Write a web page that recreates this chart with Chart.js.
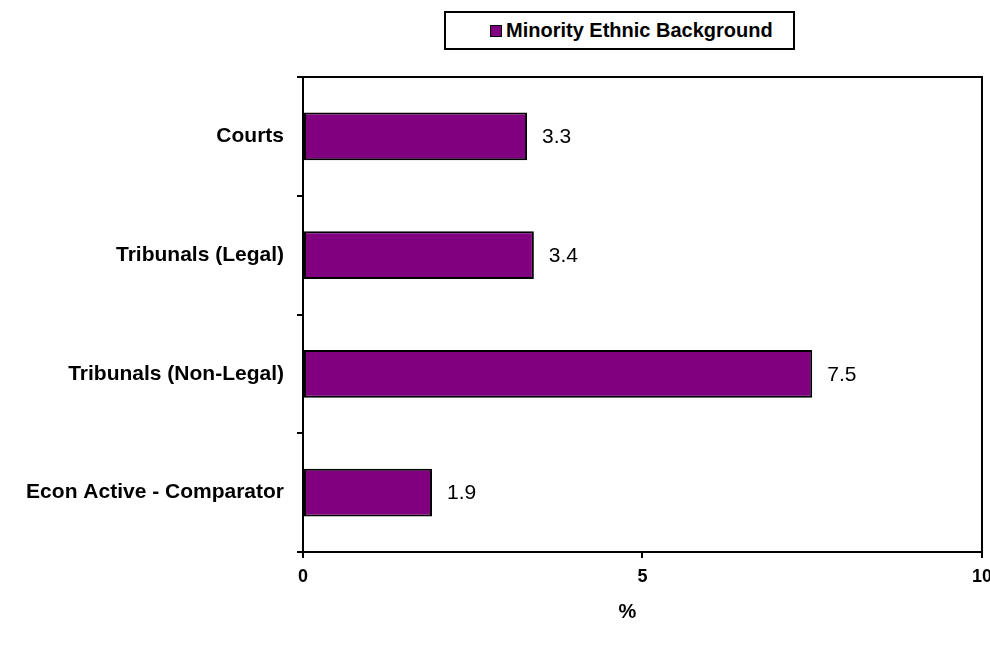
<!DOCTYPE html>
<html>
<head>
<meta charset="utf-8">
<script src="https://cdn.jsdelivr.net/npm/chart.js@4.4.1/dist/chart.umd.min.js"></script>
<style>
  html, body { margin: 0; padding: 0; background: #fff; overflow: hidden; width: 990px; height: 660px; }
  #wrap { position: absolute; left: 0; top: 0; width: 1000px; height: 660px; }
  #legend {
    position: absolute; left: 444px; top: 11px; width: 351px; height: 39px;
    box-sizing: border-box; border: 2px solid #000; background: #fff;
    font: bold 20px 'Liberation Sans', Arial, sans-serif; color: #000;
    display: flex; align-items: center; padding-left: 44px;
  }
  #legend .swatch {
    width: 10px; height: 10px; border: 1px solid #000; margin-right: 4px;
  }
</style>
</head>
<body>
<div id="wrap"><canvas id="chart" width="1000" height="660"></canvas></div>
<div id="legend"><span class="swatch"></span><span id="legendText"></span></div>
<script>
// Categories, top to bottom
const categories = ['Courts', 'Tribunals (Legal)', 'Tribunals (Non-Legal)', 'Econ Active - Comparator'];
// Percentage with a minority ethnic background
const seriesValues = [3.3, 3.4, 7.5, 1.9];
const seriesName = 'Minority Ethnic Background';
const xTicks = [0, 5, 10];
const axisTitle = '%';

const FONT = "'Liberation Sans', Arial, sans-serif";
const PURPLE = '#800080';

document.getElementById('legendText').textContent = seriesName;
document.querySelector('#legend .swatch').style.background = PURPLE;

// Value labels to the right of each bar
const valueLabels = {
  id: 'valueLabels',
  afterDatasetsDraw(chart) {
    const ctx = chart.ctx;
    const meta = chart.getDatasetMeta(0);
    ctx.save();
    ctx.font = '21px ' + FONT;
    ctx.fillStyle = '#000';
    ctx.textAlign = 'left';
    ctx.textBaseline = 'middle';
    meta.data.forEach((bar, i) => {
      ctx.fillText(seriesValues[i].toFixed(1), bar.x + 15, bar.y + 1);
    });
    ctx.restore();
  }
};

// Top and right edges of the plot frame, plus the axis title
const frame = {
  id: 'frame',
  afterDraw(chart) {
    const { ctx, chartArea: a } = chart;
    ctx.save();
    ctx.strokeStyle = '#000';
    ctx.lineWidth = 2;
    ctx.beginPath();
    ctx.moveTo(a.left, a.top);
    ctx.lineTo(a.right, a.top);
    ctx.lineTo(a.right, a.bottom);
    ctx.stroke();
    ctx.font = 'bold 20px ' + FONT;
    ctx.fillStyle = '#000';
    ctx.textAlign = 'center';
    ctx.textBaseline = 'middle';
    ctx.fillText(axisTitle, (a.left + a.right) / 2 - 15, 612);
    ctx.restore();
  }
};

new Chart(document.getElementById('chart'), {
  type: 'bar',
  data: {
    labels: categories,
    datasets: [{
      label: seriesName,
      data: seriesValues,
      backgroundColor: PURPLE,
      borderColor: '#000',
      borderWidth: 2,
      borderSkipped: false,
      categoryPercentage: 1,
      barPercentage: 0.404
    }]
  },
  options: {
    indexAxis: 'y',
    responsive: false,
    animation: false,
    layout: { padding: { top: 77, right: 17, left: 0, bottom: 0 } },
    plugins: {
      legend: { display: false },
      tooltip: { enabled: false }
    },
    scales: {
      y: {
        type: 'category',
        afterFit(scale) { scale.width = 303; },
        grid: {
          display: true,
          drawOnChartArea: false,
          drawTicks: true,
          tickLength: 6,
          color: '#000',
          lineWidth: 2,
          offset: true
        },
        border: { display: true, color: '#000', width: 2 },
        ticks: {
          color: '#000',
          padding: 13,
          font: { family: FONT, size: 21, weight: 'bold' }
        }
      },
      x: {
        type: 'linear',
        min: xTicks[0],
        max: xTicks[xTicks.length - 1],
        afterFit(scale) { scale.height = 108; },
        afterBuildTicks(scale) { scale.ticks = xTicks.map(v => ({ value: v })); },
        grid: {
          display: true,
          drawOnChartArea: false,
          drawTicks: true,
          tickLength: 6,
          color: '#000',
          lineWidth: 2
        },
        border: { display: true, color: '#000', width: 2 },
        ticks: {
          color: '#000',
          padding: 8,
          font: { family: FONT, size: 18, weight: 'bold' }
        }
      }
    }
  },
  plugins: [valueLabels, frame]
});
</script>
</body>
</html>
